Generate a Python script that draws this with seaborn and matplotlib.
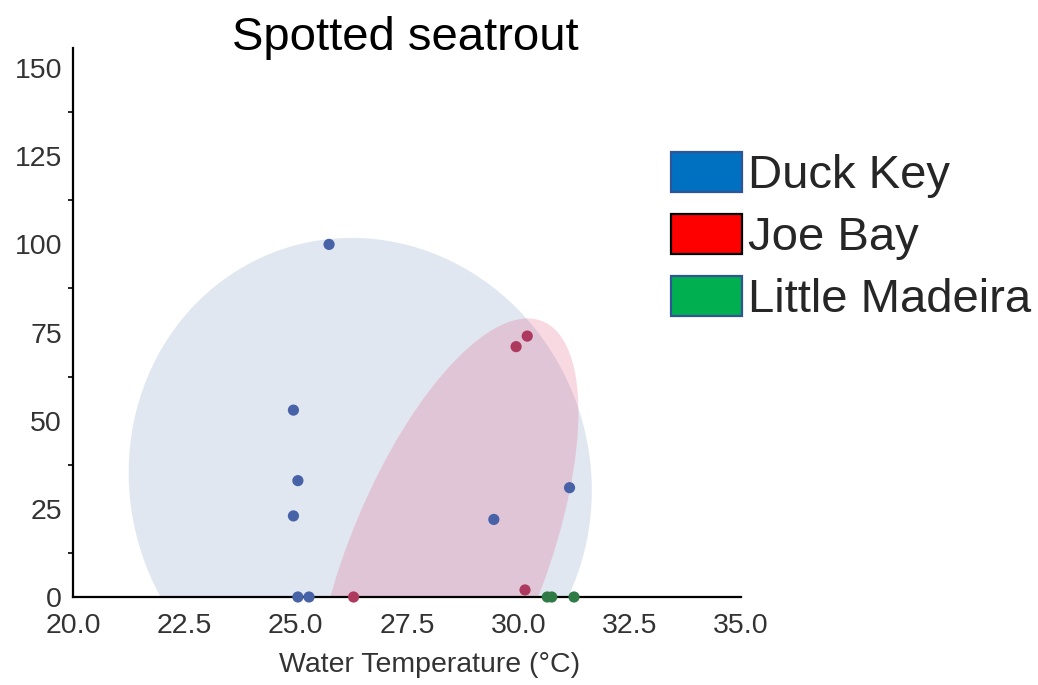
import matplotlib.pyplot as plt
import seaborn as sns
import pandas as pd
import numpy as np
from matplotlib.patches import Ellipse, Patch
from matplotlib.ticker import MultipleLocator

# Data
duck_temp = [25.75, 24.95, 25.05, 24.95, 29.45, 31.15, 25.05, 25.3]
duck_count = [100, 53, 33, 23, 22, 31, 0, 0]
joe_temp = [29.95, 30.2, 30.15, 26.3]
joe_count = [71, 74, 2, 0]
madeira_temp = [30.65, 30.75, 31.25]
madeira_count = [0, 0, 0]

sites = ['Duck Key', 'Joe Bay', 'Little Madeira']
legend_colors = ['#0070C0', '#FF0000', '#00B050']
legend_edges = ['#2F5597', '#000000', '#2F5597']

# ellipse summaries (Duck Key, Joe Bay)
ell_sites = ['Duck Key', 'Joe Bay']
ell_cx = [26.45, 28.35]
ell_cy = [32.75, 9.0]
ell_rx = [5.2, 3.0]
ell_ry = [69.1, 70.0]
ell_corr = [-0.037, 0.62]

data = pd.DataFrame({
    'temp': duck_temp + joe_temp + madeira_temp,
    'count': duck_count + joe_count + madeira_count,
    'site': ['Duck Key'] * len(duck_temp) + ['Joe Bay'] * len(joe_temp)
            + ['Little Madeira'] * len(madeira_temp),
})

point_colors = {'Duck Key': '#4862a8', 'Joe Bay': '#ad3a5e', 'Little Madeira': '#2f7a45'}
fill_colors = {'Duck Key': '#4C72B0', 'Joe Bay': '#E0406A'}
fill_alpha = {'Duck Key': 0.17, 'Joe Bay': 0.2}

sns.set_style('white')
plt.rcParams['font.family'] = ['Liberation Sans', 'DejaVu Sans']

fig = plt.figure(figsize=(10.38, 6.85), dpi=100)
ax = fig.add_axes([73 / 1038, 1 - 597 / 685, 668 / 1038, 549 / 685])

for site, cx, cy, rx, ry, r in zip(ell_sites, ell_cx, ell_cy, ell_rx, ell_ry, ell_corr):
    cov = np.array([[rx ** 2, r * rx * ry], [r * rx * ry, ry ** 2]])
    vals, vecs = np.linalg.eigh(cov)
    order = vals.argsort()[::-1]
    vals, vecs = vals[order], vecs[:, order]
    angle = np.degrees(np.arctan2(vecs[1, 0], vecs[0, 0]))
    w, h = 2 * np.sqrt(vals)
    ax.add_patch(Ellipse((cx, cy), w, h, angle=angle, facecolor=fill_colors[site],
                         alpha=fill_alpha[site], edgecolor='none', zorder=1))

sns.scatterplot(data=data, x='temp', y='count', hue='site', palette=point_colors,
                s=65, edgecolor='none', legend=False, ax=ax, zorder=3, clip_on=False)

ax.set_xlim(20, 35)
ax.set_ylim(0, 155.7)
ax.set_yticks([0, 25, 50, 75, 100, 125, 150])
ax.yaxis.set_minor_locator(MultipleLocator(12.5))
xt = np.arange(20, 35.1, 2.5)
ax.set_xticks(xt)
ax.set_xticklabels([f'{v:.1f}' for v in xt])

for side in ['top', 'right']:
    ax.spines[side].set_visible(False)
for side in ['left', 'bottom']:
    ax.spines[side].set_linewidth(1.6)
    ax.spines[side].set_color('black')

ax.tick_params(axis='both', which='major', direction='out', length=6, width=1.4,
               labelsize=20.5, labelcolor='#333333', color='black', pad=2)
ax.tick_params(axis='x', which='major', pad=5.5)
ax.tick_params(axis='y', which='minor', direction='out', length=3.5, width=1.2,
               color='black', left=True)
ax.tick_params(axis='x', which='minor', bottom=False)

ax.set_xlabel('Water Temperature (°C)', fontsize=20.5, color='#333333')
ax.set_ylabel('')
ax.xaxis.set_label_coords((429.5 - 73) / 668, -0.1)

fig.text(405 / 1038, 1 - 50 / 685, 'Spotted seatrout', fontsize=34,
         ha='center', va='baseline', color='black')

handles = [Patch(facecolor=c, edgecolor=ec, linewidth=1.6)
           for c, ec in zip(legend_colors, legend_edges)]
fig.legend(handles, sites, loc='upper left', bbox_to_anchor=(671 / 1038, 1 - 152 / 685),
           frameon=False, fontsize=34, handlelength=1.5, handleheight=0.93,
           handletextpad=0.12, labelspacing=0.33, borderpad=0, borderaxespad=0)

# cut-off label of the panel below
fig.text(47 / 1038, -0.021, '150', fontsize=20.5, color='#333333', ha='center', va='center')

fig.savefig('out.png', dpi=100)
